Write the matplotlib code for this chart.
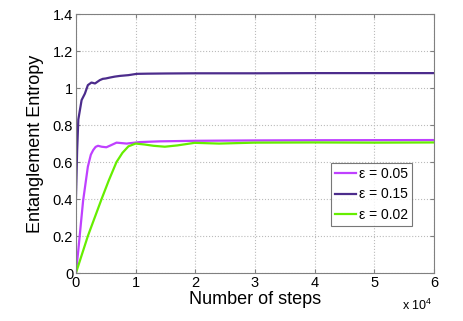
import matplotlib
matplotlib.use("Agg")
import matplotlib.pyplot as plt

plt.rcParams['font.family'] = ['Liberation Sans', 'DejaVu Sans']
plt.rcParams['mathtext.fontset'] = 'custom'
plt.rcParams['mathtext.rm'] = 'Liberation Sans'
plt.rcParams['mathtext.default'] = 'regular'

# data (x in steps)
x_015 = [0, 200, 400, 950, 1500, 2000, 2600, 3200, 4000, 4500, 5000, 5700, 6500, 7400,
         8800, 10200, 12000, 15000, 20000, 30000, 40000, 60000]
y_015 = [0.40, 0.66, 0.83, 0.935, 0.97, 1.016, 1.03, 1.025, 1.043, 1.05, 1.052, 1.057, 1.062, 1.066,
         1.07, 1.077, 1.078, 1.079, 1.08, 1.08, 1.081, 1.081]

x_005 = [0, 400, 1200, 2000, 2500, 2900, 3300, 3700, 4300, 5100, 5800, 6800, 8500, 10700,
         14000, 20000, 30000, 40000, 60000]
y_005 = [0, 0.124, 0.39, 0.575, 0.64, 0.665, 0.682, 0.688, 0.683, 0.68, 0.69, 0.705, 0.70, 0.708,
         0.712, 0.715, 0.717, 0.718, 0.719]

x_002 = [0, 700, 2000, 4300, 5500, 6800, 7800, 8800, 10000, 11500, 13000, 14900, 17000, 19900,
         24000, 30000, 40000, 50000, 60000]
y_002 = [0, 0.07, 0.2, 0.4, 0.5, 0.6, 0.65, 0.685, 0.70, 0.695, 0.688, 0.683, 0.69, 0.704,
         0.70, 0.705, 0.706, 0.705, 0.706]

labels = ['ε = 0.05', 'ε = 0.15', 'ε = 0.02']
colors = ['#BF40FF', '#4C2C8C', '#66EE00']
x_ticks = [0, 10000, 20000, 30000, 40000, 50000, 60000]
x_ticklabels = ['0', '1', '2', '3', '4', '5', '6']
y_ticks = [0, 0.2, 0.4, 0.6, 0.8, 1.0, 1.2, 1.4]
y_ticklabels = ['0', '0.2', '0.4', '0.6', '0.8', '1', '1.2', '1.4']

fig = plt.figure(figsize=(4.63, 3.21), dpi=100)
ax = fig.add_axes([0.164, 0.1495, 0.773, 0.8065])

ax.plot(x_005, y_005, color=colors[0], lw=1.6, label=labels[0])
ax.plot(x_015, y_015, color=colors[1], lw=1.6, label=labels[1])
ax.plot(x_002, y_002, color=colors[2], lw=1.6, label=labels[2])

ax.set_xlim(0, 60000)
ax.set_ylim(0, 1.4)
ax.set_xticks(x_ticks)
ax.set_xticklabels(x_ticklabels)
ax.set_yticks(y_ticks)
ax.set_yticklabels(y_ticklabels)
ax.tick_params(direction='in', top=True, right=True, labelsize=10.5, length=3,
               color='#808080', pad=2)
for s in ax.spines.values():
    s.set_color('#808080')
ax.grid(True, linestyle=':', color='#bbbbbb', lw=0.8)

ax.set_xlabel('Number of steps', fontsize=13, labelpad=1)
ax.set_ylabel('Entanglement Entropy', fontsize=13, labelpad=6)

ax.text(0.911, -0.143, 'x 10$^{4}$', transform=ax.transAxes, ha='left', va='baseline',
        fontsize=9)

leg = ax.legend(loc='upper left', bbox_to_anchor=(0.712, 0.425), fontsize=10,
                frameon=True, fancybox=False, handlelength=1.5, handletextpad=0.2,
                borderpad=0.3, labelspacing=0.45, borderaxespad=0)
leg.get_frame().set_edgecolor('#555555')
leg.get_frame().set_linewidth(0.8)

fig.savefig('out.png', dpi=100)
